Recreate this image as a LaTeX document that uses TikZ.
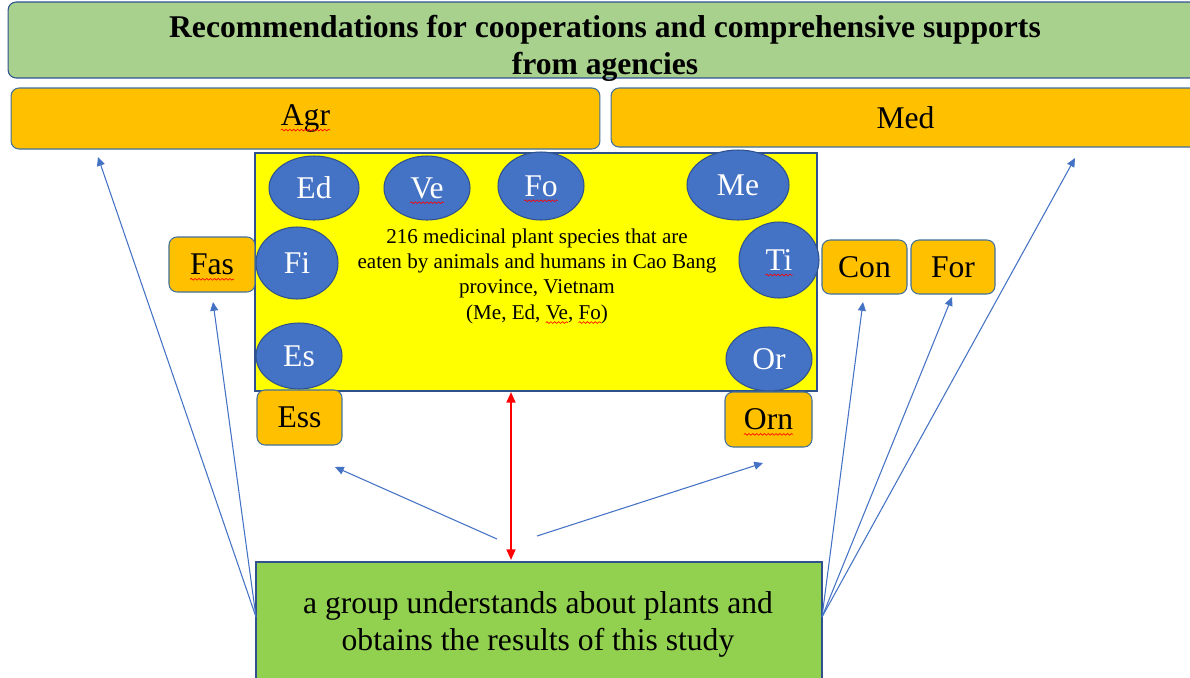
\documentclass[tikz,border=0pt]{standalone}
\usepackage{fontspec}
\setmainfont{Liberation Serif}
\usetikzlibrary{shapes.geometric,arrows.meta,decorations.pathmorphing}
\definecolor{tgreen}{HTML}{A9D18E}
\definecolor{orng}{HTML}{FFC000}
\definecolor{ylw}{HTML}{FFFF00}
\definecolor{bfill}{HTML}{4472C4}
\definecolor{bline}{HTML}{2F528F}
\definecolor{oline}{HTML}{41719C}
\definecolor{bgreen}{HTML}{92D050}
\newcommand{\sqg}[2][2.6pt]{\tikz[baseline=(sq.base)]{\node[shape=rectangle,inner sep=0pt,outer sep=0pt,draw=none,fill=none,minimum width=0pt,minimum height=0pt,rounded corners=0pt] (sq) {#2};\draw[overlay,red,line width=0.35pt,rounded corners=0pt,decorate,decoration={snake,amplitude=0.5pt,segment length=2.2pt}] ([yshift=-#1]sq.base west) -- ([yshift=-#1]sq.base east);}}
\tikzset{
  obox/.style={draw=oline, line width=0.6pt, fill=orng, rounded corners=0.16cm, font=\fontsize{18}{21}\selectfont, inner sep=0pt},
  bub/.style={ellipse, draw=bline, line width=0.6pt, fill=bfill, text=white, font=\fontsize{18}{21}\selectfont, inner sep=0pt},
  arr/.style={draw=bfill, line width=0.6pt, -{Triangle[length=5pt,width=4.5pt]}},
  redarr/.style={draw=red, line width=1.1pt, {Triangle[length=6pt,width=5pt]}-{Triangle[length=6pt,width=5pt]}},
  bigbox/.style={draw=bline, line width=0.9pt, inner sep=0pt}
}
\begin{document}
\begin{tikzpicture}[x=0.02cm,y=-0.02cm]
\path[use as bounding box] (0,0) rectangle (1190,677);
\clip (0,0) rectangle (1190,677);
\fill[white] (0,0) rectangle (1190,677);
% title
\node[bigbox, line width=0.6pt, fill=tgreen, rounded corners=0.16cm, minimum width=23.84cm, minimum height=1.52cm] (title) at (604,40) {};
\node[font=\bfseries\fontsize{18}{21}\selectfont, align=center] (titletext) at (605,48) {Recommendations for cooperations and comprehensive supports\\from agencies};
% Agr / Med
\node[obox, minimum width=11.78cm, minimum height=1.22cm] (agr) at (305.5,118.5) {\sqg{Agr}};
\node[obox, minimum width=11.78cm, minimum height=1.18cm] (med) at (905.5,117.5) {Med};
% main yellow box
\node[bigbox, fill=ylw, minimum width=11.24cm, minimum height=4.76cm] (main) at (536,272) {};
\node[font=\fontsize{12}{14.4}\selectfont, align=center] (maintext) at (537,276) {216 medicinal plant species that are\\eaten by animals and humans in Cao Bang\\province, Vietnam\\(Me, Ed, \sqg[2pt]{Ve}, \sqg[2pt]{Fo})};
% bubbles
\node[bub, minimum width=1.8cm, minimum height=1.28cm] (ed) at (314,188) {Ed};
\node[bub, minimum width=1.72cm, minimum height=1.28cm] (ve) at (427,188) {\sqg{Ve}};
\node[bub, minimum width=1.72cm, minimum height=1.36cm] (fo) at (541,186) {\sqg{Fo}};
\node[bub, minimum width=2.04cm, minimum height=1.4cm] (me) at (738,185) {Me};
\node[bub, minimum width=1.64cm, minimum height=1.44cm] (fi) at (297,263) {Fi};
\node[bub, minimum width=1.6cm, minimum height=1.52cm] (ti) at (779,260) {\sqg{Ti}};
\node[bub, minimum width=1.72cm, minimum height=1.32cm] (es) at (299,356) {Es};
\node[bub, minimum width=1.72cm, minimum height=1.28cm] (or) at (769,359) {Or};
% small orange boxes
\node[obox, minimum width=1.72cm, minimum height=1.1cm] (fas) at (212,264.5) {\sqg{Fas}};
\node[obox, minimum width=1.7cm, minimum height=1.08cm] (con) at (864.5,267) {Con};
\node[obox, minimum width=1.68cm, minimum height=1.08cm] (for) at (953,267) {For};
\node[obox, minimum width=1.7cm, minimum height=1.1cm] (ess) at (299.5,417.5) {Ess};
\node[obox, minimum width=1.74cm, minimum height=1.1cm] (orn) at (768.5,419.5) {\sqg{Orn}};
% bottom green box
\node[bigbox, fill=bgreen, minimum width=11.32cm, minimum height=2.8cm, anchor=north] (grp) at (539,561) {};
\node[font=\fontsize{18}{21}\selectfont, align=center] (grptext) at (538,624) {a group understands about plants and\\obtains the results of this study};
% arrow end points
\coordinate (aAgr) at (98,157);
\coordinate (aFas) at (213,302);
\coordinate (aEss) at (335,467);
\coordinate (aOrn) at (763,463);
\coordinate (aCon) at (863,302);
\coordinate (aFor) at (952,297);
\coordinate (aMed) at (1075,158);
\coordinate (sL) at (256,617);
\coordinate (sR) at (822,617);
\coordinate (sEss) at (497,539);
\coordinate (sOrn) at (537,536);
\coordinate (rT) at (511,392);
\coordinate (rB) at (511,560);
% arrows
\draw[arr] (sL) -- (aAgr);
\draw[arr] (sL) -- (aFas);
\draw[arr] (sEss) -- (aEss);
\draw[arr] (sOrn) -- (aOrn);
\draw[arr] (sR) -- (aCon);
\draw[arr] (sR) -- (aFor);
\draw[arr] (sR) -- (aMed);
\draw[redarr] (rT) -- (rB);
\end{tikzpicture}
\end{document}
